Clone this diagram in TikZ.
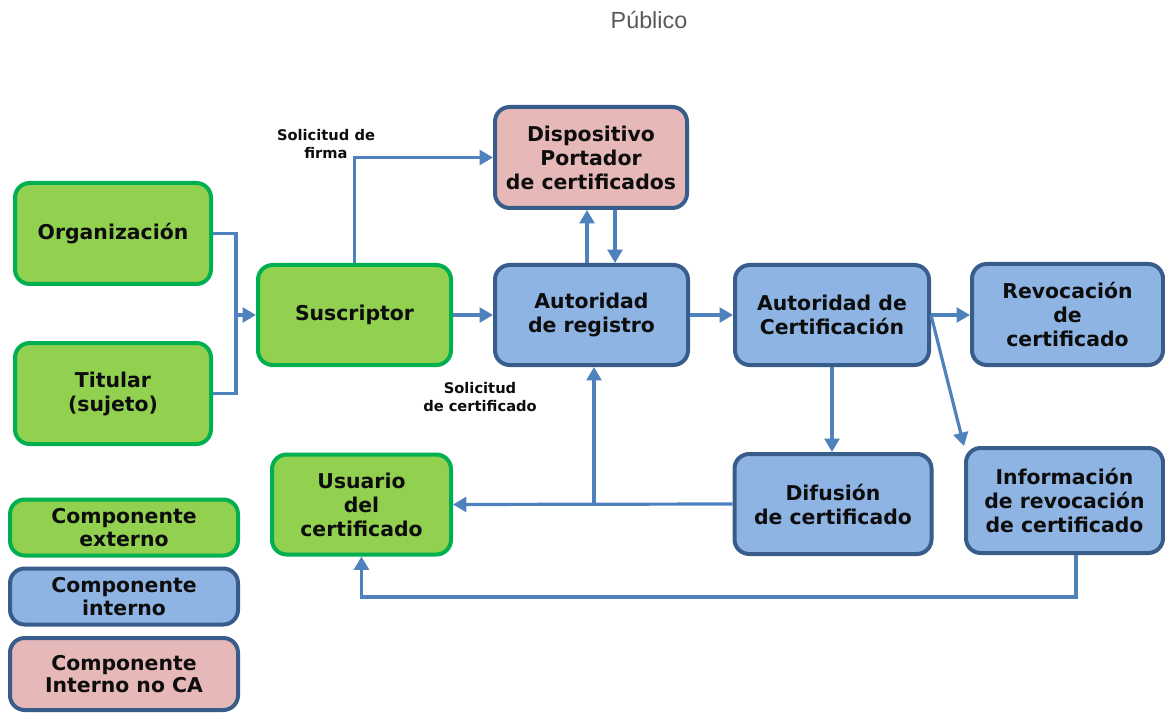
\documentclass[tikz,border=0pt]{standalone}
\usepackage{fontspec}
\setmainfont{DejaVu Sans}
\newfontfamily\arialfont{Liberation Sans}
\usetikzlibrary{arrows.meta}
\definecolor{gfill}{HTML}{92D050}
\definecolor{gline}{HTML}{00B050}
\definecolor{bfill}{HTML}{8EB4E3}
\definecolor{bline}{HTML}{385D8A}
\definecolor{pfill}{HTML}{E6B9B8}
\definecolor{arrc}{HTML}{4F81BD}
\definecolor{txtc}{HTML}{0D0D0D}
\definecolor{pubc}{HTML}{595959}
\tikzset{
  box/.style={draw, rounded corners=11pt, line width=3pt, align=center, inner sep=0pt,
    text=txtc, font=\bfseries\fontsize{15.3}{18}\selectfont},
  ext/.style={box, fill=gfill, draw=gline},
  int/.style={box, fill=bfill, draw=bline},
  nca/.style={box, fill=pfill, draw=bline},
  legtext/.style={font=\bfseries\fontsize{15.3}{17}\selectfont},
  arr/.style={draw=arrc, line width=2.4pt, -{Triangle[length=10pt,width=11pt]}},
  ln/.style={draw=arrc, line width=2.4pt},
  lbl/.style={align=center, text=txtc, font=\bfseries\fontsize{11}{13}\selectfont}
}
\begin{document}
\begin{tikzpicture}[x=0.75pt,y=-0.75pt]
\useasboundingbox (0,0) rectangle (1165,713);
\fill[white] (0,0) rectangle (1165,713);

\node[text=pubc, font=\arialfont\fontsize{17.5}{20}\selectfont] (pub) at (649,20) {Público};

% nodes
\node[ext, minimum width=147pt, minimum height=75.75pt] (org) at (113,233.5) {Organización};
\node[ext, minimum width=147pt, minimum height=75.75pt] (tit) at (113,393.5) {Titular\\(sujeto)};
\node[ext, minimum width=144.75pt, minimum height=75pt] (sus) at (354.5,315) {Suscriptor};
\node[nca, minimum width=144pt, minimum height=75.75pt] (disp) at (591,157.5) {Dispositivo\\Portador\\de certificados};
\node[int, minimum width=144.75pt, minimum height=75pt] (ar) at (591.5,315) {Autoridad\\de registro};
\node[int, minimum width=145.5pt, minimum height=75pt] (ac) at (832,315) {Autoridad de\\Certificación};
\node[int, minimum width=143.25pt, minimum height=75.75pt] (rev) at (1067.5,314.5) {Revocación\\de\\certificado};
\node[int, minimum width=147.75pt, minimum height=75pt] (dif) at (833,504) {Difusión\\de certificado};
\node[int, minimum width=147.75pt, minimum height=78.75pt] (info) at (1064.5,500.5) {Información\\de revocación\\de certificado};
\node[ext, minimum width=134.25pt, minimum height=75pt] (usu) at (361.5,504.5) {Usuario\\del\\certificado};

% legend
\node[ext, legtext, minimum width=171pt, minimum height=42pt] (leg1) at (124,527.5) {Componente\\externo};
\node[int, legtext, minimum width=171pt, minimum height=42pt] (leg2) at (124,596.5) {Componente\\interno};
\node[nca, legtext, minimum width=171pt, minimum height=54pt] (leg3) at (124,674) {Componente\\Interno no CA};

% labels
\node[lbl] (lfirma) at (326,144) {Solicitud de\\firma};
\node[lbl] (lcert) at (480,397) {Solicitud\\de certificado};

% helper coordinates
\coordinate (jn) at (236,315);
\coordinate (xup) at (587,0);
\coordinate (xdn) at (615,0);
\coordinate (br) at (594,504);
\coordinate (xinf) at (1076,0);
\coordinate (ybot) at (0,597);

% connectors
\draw[ln] (org.east) -| (jn);
\draw[ln] (tit.east) -| (jn);
\draw[arr] (jn) -- (sus.west);
\draw[arr] (sus.north) |- (disp.west);
\draw[arr] (sus.east) -- (ar.west);
\draw[arr] (ar.north -| xup) -- (disp.south -| xup);
\draw[arr] (disp.south -| xdn) -- (ar.north -| xdn);
\draw[arr] (ar.east) -- (ac.west);
\draw[arr] (ac.east) -- (ac.east -| rev.west);
\draw[arr] (ac.east) -- (info.north west);
\draw[arr] (ac.south) -- (ac.south |- dif.north);
\draw[arr] (dif.west) -- (usu.east);
\draw[arr] (br) -- (br |- ar.south);
\draw[arr] (info.south -| xinf) -- (xinf |- ybot) -| (usu.south);
\end{tikzpicture}
\end{document}
